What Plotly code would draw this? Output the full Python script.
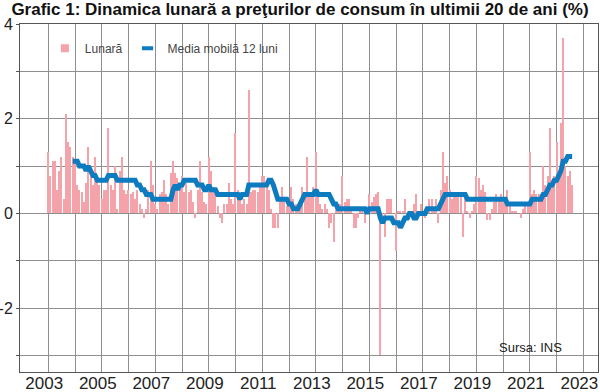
import pandas as pd
import plotly.graph_objects as go

# Monthly CPI change (%), Jan..Dec of each year
lunara_2003 = [1.3, 0.8, 1.1, 1.1, 0.5, 0.9, 1.2, 0.3, 2.1, 1.5, 1.4, 1.2]
lunara_2004 = [1.1, 0.6, 0.5, 0.45, 0.25, 0.65, 1.4, 0.8, 0.6, 1.2, 0.8, 0.6]
lunara_2005 = [0.3, 0.5, 0.5, 1.8, 0.6, 0.5, 1.0, 0.1, 0.9, 1.2, 0.5, 0.4]
lunara_2006 = [0.5, 0.4, 0.45, 0.3, 0.5, 0.2, 0.1, -0.1, 0.1, 0.5, 1.1, 0.6]
lunara_2007 = [0.2, 0.1, 0.4, 0.45, 0.7, 0.4, 0.2, 0.85, 1.1, 0.85, 0.75, 0.6]
lunara_2008 = [0.8, 0.45, 0.65, 0.45, 0.5, 0.25, -0.1, 0.5, 1.1, 0.45, 0.25, 0.2]
lunara_2009 = [1.2, 0.9, 0.45, 0.4, 0.15, -0.1, -0.2, 0.2, 0.2, 0.65, 0.3, 0.2]
lunara_2010 = [1.7, 0.5, 0.3, 0.2, 0.3, 0.2, 2.6, 0.45, 0.5, 0.5, 0.45, 0.55]
lunara_2011 = [0.8, 0.8, 0.65, 0.5, 0.1, -0.3, -0.3, -0.3, 0.3, 0.55, 0.3, 0.15]
lunara_2012 = [0.2, 0.55, 0.3, 0.2, 0.2, 0.2, 0.55, 0.35, 1.2, 0.35, 0.4, 0.55]
lunara_2013 = [1.3, 0.4, 0.2, 0.1, 0.2, 0.1, -0.3, -0.2, -0.6, 0.25, 0.2, 0.2]
lunara_2014 = [0.8, 0.25, 0.3, 0.3, 0.05, -0.3, -0.3, -0.1, 0.05, 0.1, -0.2, 0.05]
lunara_2015 = [0.4, 0.25, 0.35, 0.4, 0.45, -3.0, -0.15, -0.5, 0.3, 0.3, 0.3, 0.0]
lunara_2016 = [-0.8, 0.05, 0.05, 0.05, 0.3, 0.0, -0.15, 0.05, 0.2, 0.4, 0.05, 0.2]
lunara_2017 = [0.0, -0.1, 0.1, 0.3, 0.3, 0.1, 0.3, -0.2, 0.5, 1.3, 0.65, 0.8]
lunara_2018 = [0.5, 0.3, 0.45, 0.45, 0.45, 0.45, -0.5, 0.3, 0.05, -0.1, 0.05, 0.2]
lunara_2019 = [0.8, 0.75, 0.5, 0.6, 0.45, -0.15, -0.15, 0.1, 0.25, 0.4, 0.35, 0.4]
lunara_2020 = [0.25, 0.3, 0.5, 0.2, 0.05, 0.05, 0.05, 0.0, -0.1, 0.1, 0.2, 0.25]
lunara_2021 = [1.3, 0.4, 0.5, 0.4, 0.4, 0.4, 1.0, 0.6, 0.8, 1.8, 0.7, 0.8]
lunara_2022 = [1.5, 0.8, 1.9, 3.7, 1.0, 0.8, 0.9, 0.6]

# 12-month moving average (%) (starts Dec 2003)
ma_2003 = [1.1]
ma_2004 = [1.1, 1.1, 1.0, 1.0, 1.0, 0.9, 1.0, 0.9, 0.8, 0.8, 0.7, 0.7]
ma_2005 = [0.7, 0.7, 0.7, 0.8, 0.8, 0.8, 0.8, 0.7, 0.7, 0.7, 0.7, 0.7]
ma_2006 = [0.7, 0.7, 0.7, 0.7, 0.6, 0.6, 0.5, 0.5, 0.4, 0.4, 0.4, 0.3]
ma_2007 = [0.3, 0.3, 0.3, 0.3, 0.3, 0.3, 0.3, 0.3, 0.5, 0.6, 0.5, 0.6]
ma_2008 = [0.6, 0.7, 0.7, 0.7, 0.7, 0.7, 0.7, 0.6, 0.6, 0.6, 0.5, 0.5]
ma_2009 = [0.6, 0.5, 0.5, 0.5, 0.4, 0.4, 0.4, 0.4, 0.4, 0.4, 0.4, 0.4]
ma_2010 = [0.4, 0.4, 0.3, 0.4, 0.4, 0.4, 0.6, 0.6, 0.6, 0.6, 0.6, 0.6]
ma_2011 = [0.6, 0.6, 0.6, 0.7, 0.7, 0.6, 0.4, 0.3, 0.3, 0.3, 0.3, 0.3]
ma_2012 = [0.2, 0.2, 0.1, 0.1, 0.1, 0.2, 0.3, 0.4, 0.4, 0.4, 0.4, 0.4]
ma_2013 = [0.5, 0.4, 0.4, 0.4, 0.4, 0.4, 0.4, 0.3, 0.2, 0.2, 0.1, 0.1]
ma_2014 = [0.1, 0.1, 0.1, 0.1, 0.1, 0.1, 0.1, 0.1, 0.1, 0.1, 0.1, 0.0]
ma_2015 = [0.1, 0.1, 0.1, 0.1, 0.1, -0.1, -0.2, -0.1, -0.1, -0.1, -0.1, -0.2]
ma_2016 = [-0.2, -0.2, -0.3, -0.2, -0.1, -0.1, 0.0, 0.0, -0.1, -0.1, 0.0, 0.0]
ma_2017 = [0.0, 0.0, 0.1, 0.1, 0.1, 0.1, 0.1, 0.1, 0.2, 0.3, 0.4, 0.4]
ma_2018 = [0.4, 0.4, 0.4, 0.4, 0.4, 0.4, 0.4, 0.4, 0.3, 0.3, 0.3, 0.3]
ma_2019 = [0.3, 0.3, 0.3, 0.3, 0.3, 0.3, 0.3, 0.3, 0.3, 0.3, 0.3, 0.3]
ma_2020 = [0.3, 0.3, 0.2, 0.2, 0.2, 0.2, 0.2, 0.2, 0.2, 0.2, 0.2, 0.2]
ma_2021 = [0.2, 0.3, 0.3, 0.3, 0.3, 0.3, 0.4, 0.4, 0.5, 0.6, 0.6, 0.7]
ma_2022 = [0.7, 0.8, 0.9, 1.1, 1.1, 1.2, 1.2, 1.2]

# axis ticks: a gridline every year, a label every second year
year_ticks = ["2003", "2004", "2005", "2006", "2007", "2008", "2009", "2010", "2011",
              "2012", "2013", "2014", "2015", "2016", "2017", "2018", "2019", "2020",
              "2021", "2022", "2023"]
year_labels = ["2003", "", "2005", "", "2007", "", "2009", "", "2011", "", "2013", "",
               "2015", "", "2017", "", "2019", "", "2021", "", "2023"]
y_ticks = [-3, -2, -1, 0, 1, 2, 3, 4]
y_labels = ["", "-2", "", "0", "", "2", "", "4"]

lunara = (lunara_2003 + lunara_2004 + lunara_2005 + lunara_2006 + lunara_2007
          + lunara_2008 + lunara_2009 + lunara_2010 + lunara_2011 + lunara_2012
          + lunara_2013 + lunara_2014 + lunara_2015 + lunara_2016 + lunara_2017
          + lunara_2018 + lunara_2019 + lunara_2020 + lunara_2021 + lunara_2022)
media = (ma_2003 + ma_2004 + ma_2005 + ma_2006 + ma_2007 + ma_2008 + ma_2009
         + ma_2010 + ma_2011 + ma_2012 + ma_2013 + ma_2014 + ma_2015 + ma_2016
         + ma_2017 + ma_2018 + ma_2019 + ma_2020 + ma_2021 + ma_2022)

months = pd.date_range("2003-01-01", periods=len(lunara), freq="MS")
ma_months = months[len(months) - len(media):]

PINK = "#F3A3A9"
BLUE = "#0C7BC0"
GRID = "#8f8f8f"
AXIS = "#555555"
FONT = "Liberation Sans, Arial, sans-serif"

fig = go.Figure()
fig.add_trace(go.Bar(x=months, y=lunara, marker=dict(color=PINK, line=dict(width=0)),
                     width=1.4e9, showlegend=False, name="Lunară"))
fig.add_trace(go.Scatter(x=ma_months, y=media, mode="lines",
                         line=dict(color=BLUE, width=5), showlegend=False,
                         name="Media mobilă 12 luni"))
# legend entries
fig.add_trace(go.Scatter(x=[None], y=[None], mode="markers", name="Lunară",
                         marker=dict(symbol="square", size=8, color=PINK)))
fig.add_trace(go.Scatter(x=[None], y=[None], mode="markers", name="Media mobilă 12 luni",
                         marker=dict(symbol="line-ew", size=8, color=BLUE,
                                     line=dict(width=4, color=BLUE))))

fig.update_layout(
    width=600, height=392,
    margin=dict(l=20, r=2, t=24, b=20, autoexpand=False),
    paper_bgcolor="white", plot_bgcolor="white",
    font=dict(family=FONT, color="#222222"),
    bargap=0,
    title=dict(text="Grafic 1: Dinamica lunară a preţurilor de consum în ultimii 20 de ani (%)",
               x=0.5, xanchor="center", y=0.992, yanchor="top",
               font=dict(size=17, family=FONT, color="#111111", weight=700)),
    legend=dict(orientation="h", x=0.043, xanchor="left", y=0.93, yanchor="middle",
                font=dict(size=12, color="#444444", family=FONT),
                bgcolor="rgba(0,0,0,0)", itemwidth=30),
    annotations=[dict(text="Sursa: INS", xref="paper", yref="paper", x=0.883, y=0.069,
                      xanchor="center", yanchor="middle", showarrow=False,
                      font=dict(size=13, color="#222222", family=FONT))],
)

fig.update_xaxes(
    type="date", range=["2001-12-11", "2023-07-20"], automargin=False,
    tickmode="array", tickvals=[f"{y}-01-01" for y in year_ticks], ticktext=year_labels,
    showgrid=True, gridcolor=GRID, gridwidth=1,
    showline=True, linecolor=AXIS, linewidth=1, mirror=True,
    ticks="", ticklabeloverflow="allow", ticklabelshift=-4,
    tickfont=dict(size=17, family=FONT, color="#222222"),
)
try:
    fig.update_xaxes(ticklabelstandoff=-4)
except ValueError:
    fig.update_xaxes(ticklabelstandoff=0)

fig.update_yaxes(
    range=[-3.35, 4], automargin=False,
    tickmode="array", tickvals=y_ticks, ticktext=y_labels,
    showgrid=True, gridcolor=GRID, gridwidth=1,
    zeroline=True, zerolinecolor=GRID, zerolinewidth=1,
    showline=True, linecolor=AXIS, linewidth=1, mirror=True,
    ticks="outside", ticklen=3, tickcolor=AXIS,
    tickfont=dict(size=16, family=FONT, color="#222222"),
)

fig.write_html("out.html", config={"displayModeBar": False},
               post_script="document.body.style.margin='0';document.body.style.overflow='hidden';")
